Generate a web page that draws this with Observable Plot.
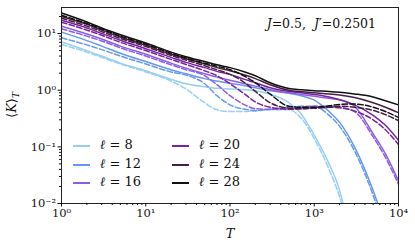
<!DOCTYPE html>
<html><head><meta charset="utf-8">
<script src="https://cdn.jsdelivr.net/npm/d3@7"></script>
<script src="https://cdn.jsdelivr.net/npm/@observablehq/plot@0.6"></script>
<style>
body{margin:0;background:#fff;}
#wrap{position:relative;width:415px;height:248px;font-family:"DejaVu Serif",serif;}
.leg{position:absolute;font-size:13px;color:#111;white-space:nowrap;}
.leg div{position:relative;height:18.5px;line-height:18.5px;}
.leg span.sw{position:absolute;left:0;top:9px;width:17px;height:0;border-top:2px solid;}
.leg span.tx{position:absolute;left:27px;}
</style></head><body><div id="wrap"></div>
<script>
const T = [1,2,3,5,10,20,30,50,70,100,150,200,300,500,700,1000,1500,2000,3000,5000,7000,10000];
const ells = [8,12,16,20,24,28];
const colors = ["#98cff3","#6698ee","#8e5de6","#7a23a0","#4a1f44","#111111"];
const xMajor = [1,10,100,1000,10000];
const yMajor = [0.01,0.1,1,10];

// solid lines (periodic?) and dashed lines, value per T
const solid8  = [7.1,5.0,4.0,3.0,2.2,1.55,1.3,1.15,1.08,1.05,1.02,0.98,0.85,0.6,0.38,0.16,0.05,0.017,0.001,null,null,null];
const dash8   = [6.4,4.7,3.8,2.9,2.1,1.45,1.05,0.6,0.45,0.42,0.42,0.43,0.45,0.45,0.32,0.14,0.04,0.013,0.001,null,null,null];
const solid12 = [10.6,7.5,6.0,4.5,3.2,2.3,1.95,1.6,1.45,1.32,1.2,1.1,0.98,0.88,0.8,0.67,0.42,0.27,0.1,0.017,0.004,null];
const dash12  = [8.4,6.3,5.2,4.0,2.9,2.1,1.85,1.3,0.8,0.55,0.46,0.44,0.46,0.5,0.52,0.52,0.36,0.23,0.085,0.014,0.003,null];
const solid16 = [13.4,9.8,8.0,6.0,4.3,3.0,2.45,1.95,1.7,1.5,1.3,1.18,1.02,0.9,0.84,0.78,0.72,0.68,0.52,0.17,0.075,0.025];
const dash16  = [12.1,9.0,7.4,5.6,4.0,2.8,2.3,1.8,1.25,0.8,0.55,0.47,0.46,0.48,0.5,0.52,0.52,0.5,0.42,0.15,0.065,0.022];
const solid20 = [17.1,12.5,10.0,7.6,5.4,3.8,3.1,2.5,2.15,1.9,1.55,1.35,1.1,0.95,0.9,0.84,0.76,0.68,0.55,0.36,0.24,0.13];
const dash20  = [15.8,11.5,9.3,7.0,5.0,3.5,2.85,2.2,1.8,1.3,0.85,0.62,0.5,0.46,0.47,0.49,0.5,0.49,0.43,0.3,0.2,0.11];
const solid24 = [20.0,14.5,11.5,8.7,6.2,4.3,3.6,2.9,2.5,2.2,1.85,1.6,1.25,1.0,0.94,0.9,0.86,0.82,0.74,0.6,0.5,0.4];
const dash24  = [18.6,13.5,10.8,8.2,5.9,4.1,3.4,2.7,2.3,1.9,1.35,0.95,0.6,0.48,0.47,0.48,0.5,0.52,0.5,0.44,0.37,0.29];
const solid28 = [23.0,16.0,12.5,9.5,6.8,4.7,3.9,3.2,2.8,2.5,2.1,1.8,1.35,1.07,1.02,0.98,0.95,0.92,0.86,0.76,0.65,0.55];
const dash28  = [21.0,15.0,12.0,9.0,6.5,4.5,3.7,3.0,2.65,2.3,1.75,1.35,0.85,0.52,0.5,0.5,0.53,0.56,0.57,0.5,0.42,0.33];

const solids = [solid8,solid12,solid16,solid20,solid24,solid28];
const dashes = [dash8,dash12,dash16,dash20,dash24,dash28];

const rows = [];
ells.forEach((l,i)=>{
  T.forEach((t,j)=>{
    rows.push({ell:l, kind:"solid", T:t, K:solids[i][j]});
    rows.push({ell:l, kind:"dash", T:t, K:dashes[i][j]});
  });
});

const supMap = {"-":"⁻","0":"⁰","1":"¹","2":"²","3":"³","4":"⁴"};
const fmt = d => "10" + String(Math.round(Math.log10(d))).split("").map(c=>supMap[c]).join("");

const xMinor = [], yMinor = [];
for (const p of [1,10,100,1000]) for (let k=2;k<10;k++) xMinor.push(p*k);
for (const p of [0.01,0.1,1,10]) for (let k=2;k<10;k++) if (p*k<=28.8) yMinor.push(p*k);

const marks = [];
ells.forEach((l,i)=>{
  marks.push(Plot.line(rows.filter(r=>r.ell===l && r.kind==="solid"), {x:"T", y:"K", stroke:colors[i], strokeWidth:1.5, curve:"monotone-x", clip:true}));
  marks.push(Plot.line(rows.filter(r=>r.ell===l && r.kind==="dash"), {x:"T", y:"K", stroke:colors[i], strokeWidth:1.5, strokeDasharray:"5.5,2.4", curve:"monotone-x", clip:true}));
});

const chart = Plot.plot({
  width:415, height:248,
  marginLeft:61, marginRight:17, marginTop:7, marginBottom:45,
  style:{fontFamily:"DejaVu Serif, serif", fontSize:"11.5px", color:"#111", background:"#fff"},
  x:{type:"log", domain:[1,10000]},
  y:{type:"log", domain:[0.01,28.8]},
  marks:[
    ...marks,
    Plot.frame({stroke:"#222", strokeWidth:1}),
    Plot.axisX(xMajor, {tickFormat:fmt, tickSize:3.5, tickPadding:2, label:null}),
    Plot.axisX(xMinor, {tickFormat:()=>"", tickSize:2, label:null}),
    Plot.axisY(yMajor, {tickFormat:fmt, tickSize:3.5, tickPadding:2, label:null}),
    Plot.axisY(yMinor, {tickFormat:()=>"", tickSize:2, label:null})
  ]
});
const wrap = document.getElementById("wrap");
wrap.appendChild(chart);

const svg = d3.select(chart);
// x label
svg.append("text").attr("x",230).attr("y",238).attr("text-anchor","middle")
  .attr("font-family","DejaVu Serif, serif").attr("font-size",13).attr("font-style","italic").attr("fill","#111").text("T");
// y label
const yl = svg.append("text").attr("transform","translate(16,105) rotate(-90)").attr("text-anchor","middle")
  .attr("font-family","DejaVu Serif, serif").attr("font-size",13).attr("fill","#111");
yl.append("tspan").text("⟨");
yl.append("tspan").attr("font-style","italic").text("K");
yl.append("tspan").text("⟩");
yl.append("tspan").attr("font-style","italic").attr("font-size",9).attr("dy",3).text("T");
// annotation
const an = svg.append("text").attr("x",376).attr("y",28).attr("text-anchor","end")
  .attr("font-family","DejaVu Serif, serif").attr("font-size",12.5).attr("fill","#111");
an.append("tspan").attr("font-style","italic").text("J");
an.append("tspan").text("=0.5,  ");
an.append("tspan").attr("font-style","italic").text("J");
an.append("tspan").text("′=0.2501");

// legend
const cols = [[0,1,2],[3,4,5]];
const lefts = [73,172];
cols.forEach((c,ci)=>{
  const d = document.createElement("div");
  d.className="leg";
  d.style.left = lefts[ci]+"px";
  d.style.top = "136px";
  c.forEach(i=>{
    const r = document.createElement("div");
    const sw = document.createElement("span"); sw.className="sw"; sw.style.borderColor = colors[i];
    const tx = document.createElement("span"); tx.className="tx";
    tx.innerHTML = "<i>ℓ</i> = " + ells[i];
    r.appendChild(sw); r.appendChild(tx); d.appendChild(r);
  });
  wrap.appendChild(d);
});
</script></body></html>
